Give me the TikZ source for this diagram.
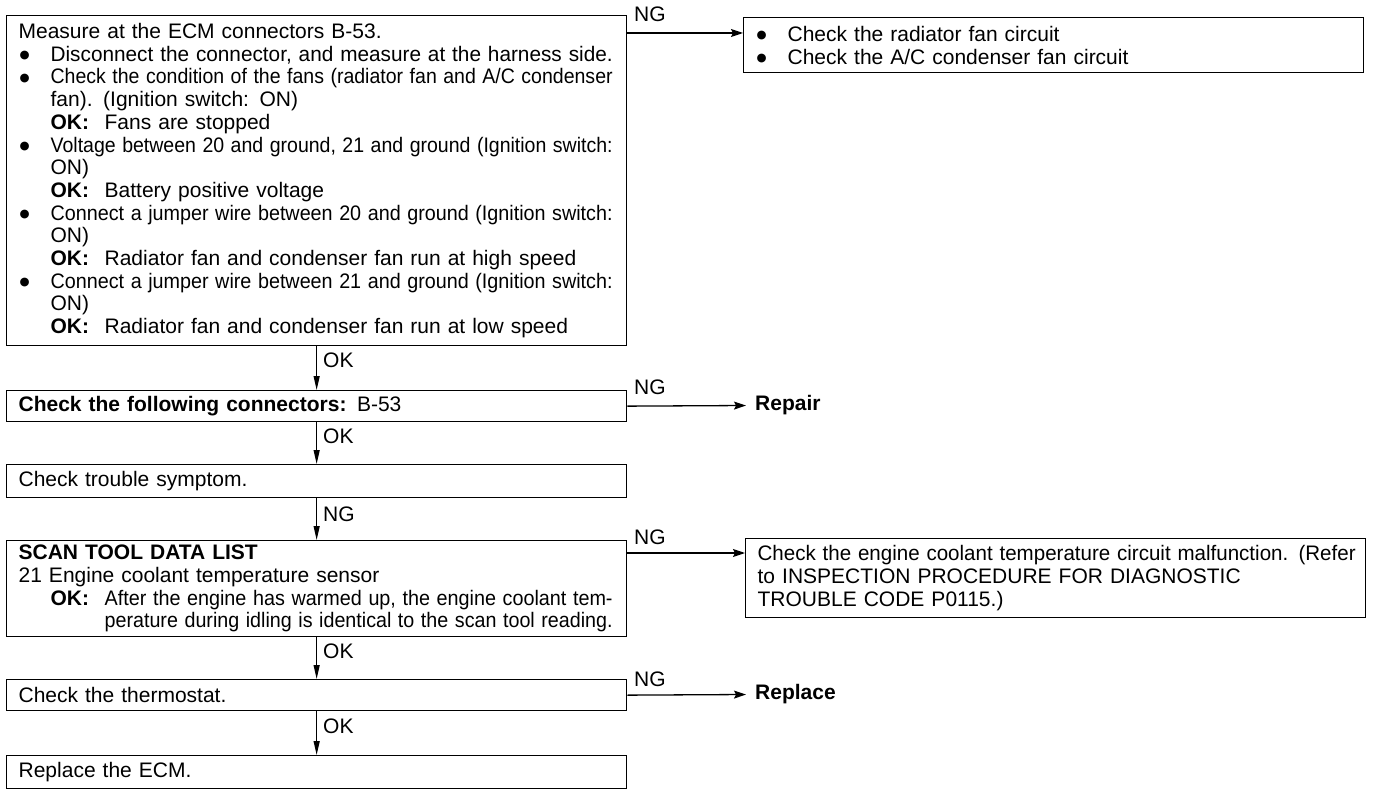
\documentclass[tikz,border=0pt]{standalone}
\usepackage{fontspec}
\setmainfont{Liberation Sans}
\newfontfamily\dvs{DejaVu Sans}
\usepackage{graphicx}
\usetikzlibrary{arrows.meta}
\hfuzz=5pt
\newcommand\fs{\fontsize{21}{22.7}\selectfont}
\newcommand\bul{\makebox[32pt][l]{\hspace{1pt}\raisebox{2.5pt}{\dvs\fontsize{11.5}{11.5}\selectfont ●}}}
\newcommand\ind{\hspace*{32pt}}
\newcommand\okl{\makebox[54pt][l]{\bfseries OK:}}
\newcommand\fitw[2]{\resizebox{#1pt}{\height}{#2}}
\newcommand\spr[2]{\makebox[#1pt][s]{#2}}
\tikzset{
  box/.style={draw, line width=1.3pt, anchor=north west, minimum width=620pt,
    text width=596pt, inner xsep=12pt, inner ysep=0pt, align=left, font=\fs},
  lab/.style={font=\fs, inner sep=0pt, anchor=west},
  va/.style={line width=1.3pt, -{Triangle[length=14pt,width=6pt]}},
  ha/.style={line width=1.3pt, -{Stealth[length=12pt,width=8pt,inset=2pt]}}
}
\begin{document}
\begin{tikzpicture}[x=1pt,y=-1pt]
\useasboundingbox (0,0) rectangle (1376,794);
% left column
\node[box, minimum height=330pt] (b1) at (6,15) {Measure at the ECM connectors B-53.\\
\bul\fitw{562}{Disconnect the connector, and measure at the harness side.}\\
\bul\fitw{562}{Check the condition of the fans (radiator fan and A/C condenser}\\
\ind fan). (Ignition switch: ON)\\
\ind\okl Fans are stopped\\
\bul\fitw{562}{Voltage between 20 and ground, 21 and ground (Ignition switch:}\\
\ind ON)\\
\ind\okl Battery positive voltage\\
\bul\fitw{562}{Connect a jumper wire between 20 and ground (Ignition switch:}\\
\ind ON)\\
\ind\okl\spr{488}{Radiator fan and condenser fan run at high speed}\\
\bul\fitw{562}{Connect a jumper wire between 21 and ground (Ignition switch:}\\
\ind ON)\\
\ind\okl\spr{479}{Radiator fan and condenser fan run at low speed}};
\node[box, minimum height=31pt] (b2) at (6,390) {{\bfseries Check the following connectors:} B-53};
\node[box, minimum height=33pt] (b3) at (6,464) {Check trouble symptom.};
\node[box, minimum height=96pt] (b4) at (6,540) {{\bfseries SCAN TOOL DATA LIST}\\
21 Engine coolant temperature sensor\\
\ind\okl\fitw{508}{After the engine has warmed up, the engine coolant tem-}\\
\hspace*{86pt}\fitw{508}{perature during idling is identical to the scan tool reading.}};
\node[box, minimum height=31pt] (b5) at (6,679) {Check the thermostat.};
\node[box, minimum height=33pt] (b6) at (6,755) {Replace the ECM.};
% right column
\node[box, minimum height=55pt] (r1) at (743,17) {\bul Check the radiator fan circuit\\
\bul Check the A/C condenser fan circuit};
\node[box, minimum height=79pt] (r4) at (745,538) {\fitw{598}{Check the engine coolant temperature circuit malfunction. (Refer}\\
to INSPECTION PROCEDURE FOR DIAGNOSTIC\\
TROUBLE CODE P0115.)};
\node[lab, inner xsep=9pt, font=\fs\bfseries] (rep2) at (746,405.5) {Repair};
\node[lab, inner xsep=9pt, font=\fs\bfseries] (rep5) at (746,694.5) {Replace};
% vertical connectors
\draw[va] (b1) -- (b2);
\draw[va] (b2) -- (b3);
\draw[va] (b3) -- (b4);
\draw[va] (b4) -- (b5);
\draw[va] (b5) -- (b6);
\node[lab] (o1) at (323,360) {OK};
\node[lab] (o2) at (323,436) {OK};
\node[lab] (o3) at (323,514) {NG};
\node[lab] (o4) at (323,651) {OK};
\node[lab] (o5) at (323,726) {OK};
% horizontal connectors
\coordinate (y1) at (0,33);
\coordinate (y4) at (0,553);
\draw[ha] (b1.east |- y1) -- (r1.west |- y1);
\draw[ha] (b2.east) -- (rep2.west);
\draw[ha] (b4.east |- y4) -- (r4.west |- y4);
\draw[ha] (b5.east) -- (rep5.west);
\node[lab] (n1) at (634,14) {NG};
\node[lab] (n2) at (634,387) {NG};
\node[lab] (n4) at (634,537) {NG};
\node[lab] (n5) at (634,679) {NG};
\end{tikzpicture}
\end{document}
